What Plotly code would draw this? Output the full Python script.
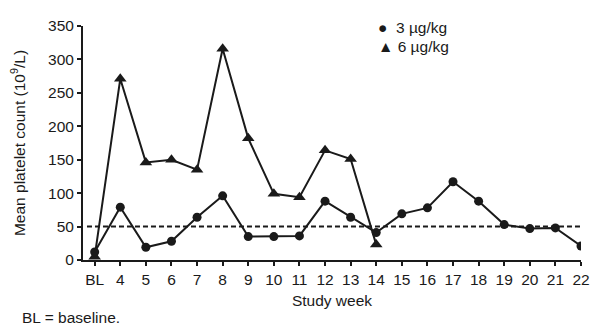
import plotly.graph_objects as go

weeks = ["BL", "4", "5", "6", "7", "8", "9", "10", "11", "12", "13", "14",
         "15", "16", "17", "18", "19", "20", "21", "22"]
dose3_vals = [12, 79, 19, 28, 64, 96, 35, 35, 36, 88, 64, 41, 69, 78, 117, 88, 53, 47, 48, 21]
weeks6 = ["BL", "4", "5", "6", "7", "8", "9", "10", "11", "12", "13", "14"]
dose6_vals = [5, 271, 146, 150, 135, 316, 182, 99, 94, 164, 151, 23]
threshold = 50
y_ticks = [0, 50, 100, 150, 200, 250, 300, 350]
legend_labels = ["\u25CF\u00a0\u00a03 µg/kg", "\u25B2\u00a06 µg/kg"]

FONT = "Liberation Sans, Arial, sans-serif"
BLACK = "#1a1a1a"
FS = 15.5

fig = go.Figure()
fig.add_trace(go.Scatter(x=weeks6, y=dose6_vals, mode="lines+markers",
                         line=dict(color=BLACK, width=2),
                         marker=dict(symbol="triangle-up", size=11, color=BLACK),
                         showlegend=False))
fig.add_trace(go.Scatter(x=weeks, y=dose3_vals, mode="lines+markers",
                         line=dict(color=BLACK, width=2),
                         marker=dict(symbol="circle", size=9, color=BLACK),
                         showlegend=False))

fig.add_shape(type="line", xref="paper", yref="y", x0=0.008, x1=1, y0=threshold, y1=threshold,
              line=dict(color=BLACK, width=2, dash="5px,3px"))

annotations = [dict(text="BL = baseline.", xref="paper", yref="paper",
                    x=-0.127, y=-0.247, xanchor="left", yanchor="middle",
                    showarrow=False, font=dict(size=FS))]
legend_y = [0.992, 0.913]
for lab, ly in zip(legend_labels, legend_y):
    annotations.append(dict(text=lab, xref="paper", yref="paper",
                            x=0.588, y=ly, xanchor="left", yanchor="middle",
                            showarrow=False, font=dict(size=FS)))

# the page body has an 8px margin, so the figure is 8px smaller and margins adjusted
fig.update_layout(
    width=591, height=318,
    margin=dict(l=70, r=9, t=10, b=66),
    paper_bgcolor="white", plot_bgcolor="white",
    font=dict(family=FONT, size=FS, color=BLACK),
    showlegend=False,
    annotations=annotations,
)
fig.update_xaxes(type="category", categoryorder="array", categoryarray=weeks,
                 range=[-0.456, 19], showline=True, linecolor=BLACK, linewidth=2,
                 ticks="outside", ticklen=4, tickcolor=BLACK, tickwidth=2,
                 showgrid=False, zeroline=False,
                 title=dict(text="Study week", standoff=9, font=dict(size=FS)))
fig.update_yaxes(range=[0, 350], tickvals=y_ticks, showline=True, linecolor=BLACK, linewidth=2,
                 ticks="outside", ticklen=4, tickcolor=BLACK, tickwidth=2,
                 showgrid=False, zeroline=False,
                 title=dict(text="Mean platelet count (10<sup>9</sup>/L)", standoff=20,
                            font=dict(size=FS)))

fig.write_html("out.html")
